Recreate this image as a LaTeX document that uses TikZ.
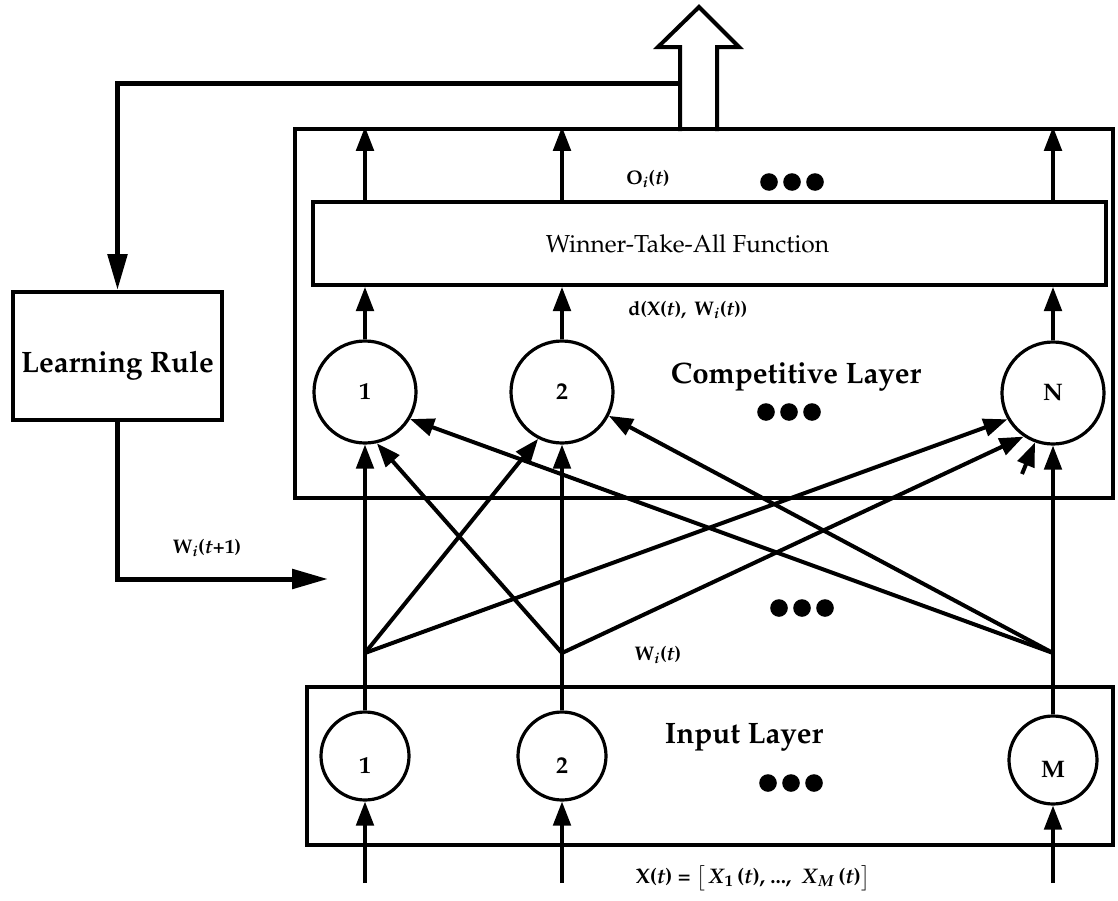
\documentclass[tikz,border=0pt]{standalone}
\usepackage[T1]{fontenc}
\usepackage{mathpazo}
\usepackage{tikz}
\usetikzlibrary{arrows.meta,positioning,calc}
\newcommand{\lownum}[1]{\smash{\raisebox{-4.4mm}{#1}}}

\begin{document}
\begin{tikzpicture}[
  x=0.25mm, y=-0.25mm,
  layer/.style={rectangle,draw,line width=1.1mm,inner sep=0pt},
  block/.style={rectangle,draw,line width=1mm,inner sep=0pt},
  neuron/.style={circle,draw,line width=0.8mm,inner sep=0pt,font=\fontsize{17}{20}\selectfont\bfseries},
  head/.style={font=\fontsize{21}{25}\selectfont\bfseries},
  lab/.style={font=\fontsize{14}{16}\selectfont\bfseries},
  line/.style={-{Triangle[length=6mm,width=4.4mm]},line width=0.8mm},
  wt/.style={-{Triangle[length=6mm,width=4.4mm]},line width=1mm},
  fb/.style={-{Triangle[length=9mm,width=4.8mm]},line width=1.25mm}
]
  \useasboundingbox (0,0) rectangle (1118,901);

  \node[layer,minimum width=204.5mm,minimum height=92.25mm] (comp) at (704,313.5) {};
  \node[layer,minimum width=201.5mm,minimum height=39.5mm] (inp) at (710,766) {};
  \node[block,minimum width=198.25mm,minimum height=20.75mm,font=\fontsize{17.5}{20}\selectfont] (wta) at (709.5,243.5) {Winner-Take-All Function\hspace*{11mm}};
  \node[block,head,minimum width=52.25mm,minimum height=32mm] (lr) at (117.5,356) {\smash{\raisebox{-4mm}{Learning Rule}}};

  \node[neuron,minimum size=25.5mm] (c1) at (365,392) {1};
  \node[neuron,minimum size=25.5mm] (c2) at (562,392) {2};
  \node[neuron,minimum size=25.5mm] (cN) at (1053,393) {N};
  \node[neuron,minimum size=22mm] (i1) at (365,756) {\lownum{1}};
  \node[neuron,minimum size=22mm] (i2) at (562,756) {\lownum{2}};
  \node[neuron,minimum size=22mm] (iM) at (1053,760) {\lownum{M}};

  \node[lab] (oi) at (648,179) {O\textsubscript{\textit{i}}(\textit{t})};
  \node[lab] (dist) at (688,310) {d(X(\textit{t}),\, W\textsubscript{\textit{i}}(\textit{t}))};
  \node[head] (complab) at (796,377) {Competitive Layer};
  \node[head] (inlab) at (744,737) {Input Layer};
  \node[lab] (wlab) at (658,655) {W\textsubscript{\textit{i}}(\textit{t})};
  \node[lab] (wnlab) at (207,548) {W\textsubscript{\textit{i}}(\textit{t}+1)};
  \node[lab,font=\fontsize{15}{18}\selectfont\bfseries] (xlab) at (753,878) {X(\textit{t}) = $\big[$\,\textit{X}\textsubscript{1}\,(\textit{t}), ..., \ \textit{X}\textsubscript{\textit{M}}\,(\textit{t})$\big]$};

  \coordinate (x1) at (365,883);
  \coordinate (x2) at (562,883);
  \coordinate (xM) at (1053,883);
  \coordinate (j1) at (365,653);
  \coordinate (j2) at (562,653);
  \coordinate (jM) at (1053,653);
  \coordinate (stub) at (1022,474);
  \coordinate (tap) at (680,83);
  \coordinate (wnext) at (328,579);

  \draw[line] (x1) -- (i1);
  \draw[line] (x2) -- (i2);
  \draw[line] (xM) -- (iM);
  \draw[line] (i1) -- (c1);
  \draw[line] (i2) -- (c2);
  \draw[line] (iM) -- (cN);

  \draw[wt] (j1) -- (c2.243);
  \draw[wt] (j1) -- (cN.210);
  \draw[wt] (j2) -- (c1.283);
  \draw[wt] (j2) -- (cN.236);
  \draw[wt] (jM) -- (c1.329);
  \draw[wt] (jM) -- (c2.333);
  \draw[wt] (stub) -- (cN.250);

  \foreach \n in {c1,c2,cN} {
    \draw[line] (\n) -- (\n |- wta.south);
    \draw[line] (\n |- wta.north) -- (\n |- comp.north);
  }

  \draw[line width=1mm,line join=miter] (680,131) -- (680,47) -- (658,47) -- (699,7) -- (739,47) -- (717,47) -- (717,131);
  \draw[fb] (tap) -| (lr.north);
  \draw[fb] (lr.south) |- (wnext);

  \foreach \cx/\cy in {792/182,789/412,802/608,791/783}
    \foreach \dx in {-23,0,23}
      \fill ({\cx+\dx},\cy) circle (2.2mm);
\end{tikzpicture}
\end{document}
